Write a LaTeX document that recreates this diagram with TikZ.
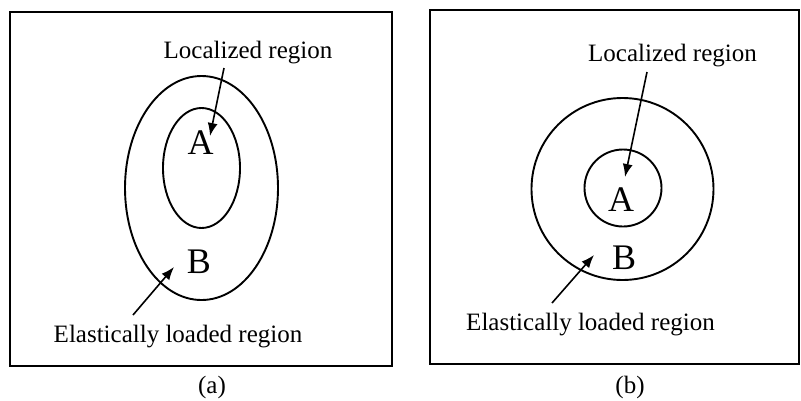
\documentclass[tikz,border=0pt]{standalone}
\usepackage{fontspec}
\setmainfont{Liberation Serif}
\usetikzlibrary{arrows.meta}
\tikzset{
  region/.style={line width=1.9pt},
  pointer/.style={line width=1.6pt,-{Latex[length=13pt,width=10pt]}},
  lbl/.style={font=\fontsize{25}{30}\selectfont,inner sep=0pt,anchor=base},
  zone/.style={font=\fontsize{36}{40}\selectfont,inner sep=0pt,anchor=base},
}
\begin{document}
\begin{tikzpicture}[x=1pt,y=-1pt]
  \useasboundingbox (0,0) rectangle (801,400);

  % (a) elongated zones
  \draw[region] (10,12) rectangle (392,366);
  \draw[region] (201.5,188) ellipse [x radius=76.5,y radius=112];
  \draw[region] (201.5,168) ellipse [x radius=38.5,y radius=60];
  \node[zone] (zoneAa) at (200.5,154) {A};
  \node[zone] (zoneBa) at (199,273) {B};
  \node[lbl] (locala) at (248,58) {Localized region};
  \node[lbl] (elastica) at (178,342) {Elastically loaded region};
  \coordinate (locfroma) at (224,68);
  \coordinate (loctoa) at (210,136);
  \coordinate (elfroma) at (133,315);
  \coordinate (eltoa) at (174,267);
  \draw[pointer] (locfroma) -- (loctoa);
  \draw[pointer] (elfroma) -- (eltoa);
  \node[lbl] (capa) at (212,393) {(a)};

  % (b) circular zones
  \draw[region] (430,10) rectangle (799,364);
  \draw[region] (622.5,189) circle [radius=91];
  \draw[region] (623,188) circle [radius=38.5];
  \node[zone] (zoneAb) at (621,211) {A};
  \node[zone] (zoneBb) at (624,269) {B};
  \node[lbl] (localb) at (672.5,61) {Localized region};
  \node[lbl] (elasticb) at (590.5,330) {Elastically loaded region};
  \coordinate (locfromb) at (647,72);
  \coordinate (loctob) at (625,177);
  \coordinate (elfromb) at (552,303);
  \coordinate (eltob) at (594,255);
  \draw[pointer] (locfromb) -- (loctob);
  \draw[pointer] (elfromb) -- (eltob);
  \node[lbl] (capb) at (630,393) {(b)};
\end{tikzpicture}
\end{document}
